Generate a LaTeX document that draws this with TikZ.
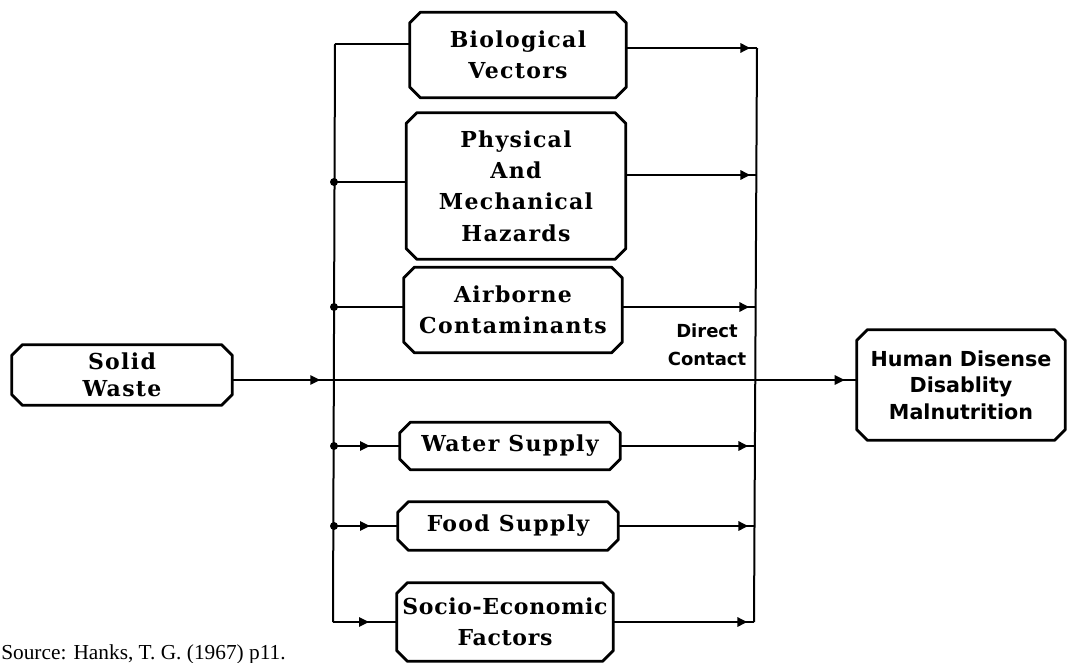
\documentclass[tikz,border=0pt]{standalone}
\usepackage{fontspec}
\setmainfont{DejaVu Serif}
\newfontfamily\labelfont{DejaVu Sans}
\newfontfamily\notefont{Liberation Serif}
\usetikzlibrary{arrows.meta,decorations.markings}

% one drawing unit = one pixel of the sheet
\def\pxu{0.75pt}
% size of the cut corners of every box
\def\cut{8pt}

% outline with cut corners around a named node
\newcommand\cutbox[1]{%
  \draw[boxline] ([xshift=\cut]#1.north west) -- ([xshift=-\cut]#1.north east)
    -- ([yshift=-\cut]#1.north east) -- ([yshift=\cut]#1.south east)
    -- ([xshift=-\cut]#1.south east) -- ([xshift=\cut]#1.south west)
    -- ([yshift=\cut]#1.south west) -- ([yshift=-\cut]#1.north west) -- cycle;}

\tikzset{
  boxline/.style={line width=2.2pt, line join=round},
  stage/.style={rectangle, inner sep=0pt, align=center,
    font=\bfseries\addfontfeature{LetterSpace=6}\fontsize{16.5pt}{23.5pt}\selectfont},
  endpoint/.style={stage, font=\labelfont\bfseries\fontsize{15.5pt}{20pt}\selectfont},
  wire/.style={line width=1.5pt},
  arrowat/.style={wire, postaction={decorate},
    decoration={markings, mark=at position #1 with {\arrow{Triangle[length=7.5pt,width=7pt]}}}},
  junction/.style={circle, fill, inner sep=0pt, minimum size=6pt},
}

\begin{document}
\begin{tikzpicture}[x=0.75pt, y=-0.75pt]
\useasboundingbox (0,0) rectangle (1068,663);

% source and sink
\node[stage, minimum width=220*\pxu, minimum height=60*\pxu,
      font=\bfseries\addfontfeature{LetterSpace=6}\fontsize{16.5pt}{20pt}\selectfont] (sw) at (122,375) {Solid\\Waste};
\node[endpoint, minimum width=208*\pxu, minimum height=110*\pxu] (hd) at (961,385)
      {Human Disense\\Disablity\\Malnutrition};

% pathways
\node[stage, minimum width=216*\pxu, minimum height=85*\pxu] (bio) at (518,55) {Biological\\Vectors};
\node[stage, minimum width=219*\pxu, minimum height=146*\pxu] (phy) at (516,186)
      {Physical\\And\\Mechanical\\Hazards};
\node[stage, minimum width=218*\pxu, minimum height=85*\pxu] (air) at (513,310) {Airborne\\Contaminants};
\node[stage, minimum width=220*\pxu, minimum height=47*\pxu] (wat) at (510,446) {Water Supply};
\node[stage, minimum width=220*\pxu, minimum height=48*\pxu] (food) at (508,526) {Food Supply};
\node[stage, minimum width=216*\pxu, minimum height=78*\pxu,
      font=\bfseries\addfontfeature{LetterSpace=3}\fontsize{16.5pt}{23.5pt}\selectfont] (soc) at (505,622)
      {Socio-Economic\\Factors};

\foreach \n in {sw,hd,bio,phy,air,wat,food,soc} {\cutbox{\n}}

\node[font=\labelfont\bfseries\fontsize{13.5pt}{21pt}\selectfont, align=center] (dc) at (707,345)
      {Direct\\Contact};

% distribution bus on the left
\coordinate (l1) at (335,44);
\coordinate (l2) at (334,182);
\coordinate (l3) at (334,307);
\coordinate (l4) at (334,446);
\coordinate (l5) at (334,526);
\coordinate (l6) at (333,622);
% collection bus on the right
\coordinate (r1) at (757,48);
\coordinate (r2) at (757,175);
\coordinate (r3) at (756,307);
\coordinate (r4) at (755,446);
\coordinate (r5) at (755,526);
\coordinate (r6) at (754,622);

\draw[wire] (l1) -- (l6);
\draw[wire] (r1) -- (r6);

\draw[wire] (l1) -- (l1 -| bio.west);
\draw[wire] (l2) -- (l2 -| phy.west);
\draw[wire] (l3) -- (l3 -| air.west);
\draw[arrowat=27pt] (l4) -- (l4 -| wat.west);
\draw[arrowat=27pt] (l5) -- (l5 -| food.west);
\draw[arrowat=27pt] (l6) -- (l6 -| soc.west);

\node[junction] at (l2) {};
\node[junction] at (l3) {};
\node[junction] at (l4) {};
\node[junction] at (l5) {};

\draw[arrowat=-5pt] (r1 -| bio.east) -- (r1);
\draw[arrowat=-5pt] (r2 -| phy.east) -- (r2);
\draw[arrowat=-5pt] (r3 -| air.east) -- (r3);
\draw[arrowat=-5pt] (r4 -| wat.east) -- (r4);
\draw[arrowat=-5pt] (r5 -| food.east) -- (r5);
\draw[arrowat=-5pt] (r6 -| soc.east) -- (r6);

% direct contact route
\coordinate (dcs) at ([yshift=-5*\pxu]sw.east);
\draw[wire, postaction={decorate}, decoration={markings,
      mark=at position 66pt with {\arrow{Triangle[length=7.5pt,width=7pt]}},
      mark=at position -9pt with {\arrow{Triangle[length=7.5pt,width=7pt]}}}]
  (dcs) -- (dcs -| hd.west);

\node[font=\notefont\fontsize{16pt}{18pt}\selectfont, anchor=base west, inner sep=0pt] (src)
  at (1,659) {Source: Hanks, T. G. (1967) p11.};
\end{tikzpicture}
\end{document}
